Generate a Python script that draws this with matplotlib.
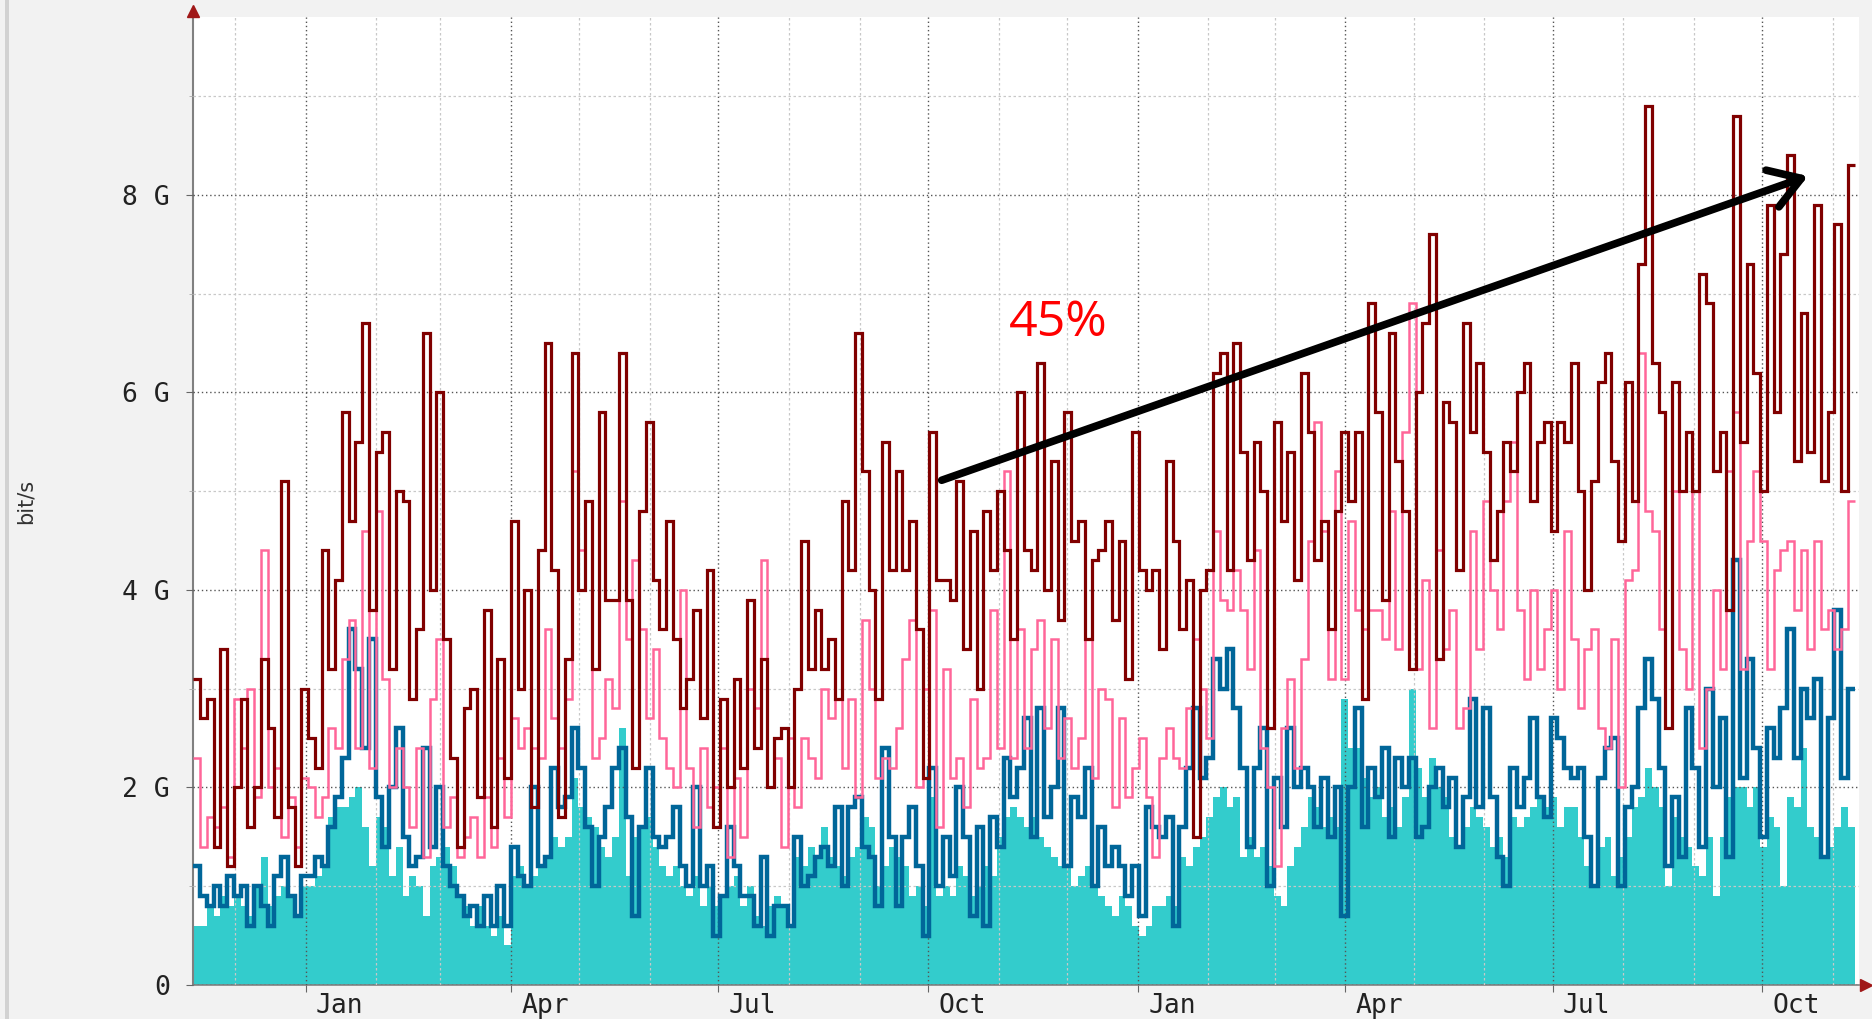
import matplotlib
matplotlib.use('Agg')
import matplotlib.pyplot as plt
import matplotlib.dates as mdates
from matplotlib.patches import Rectangle
from datetime import datetime

# traffic in Gbit/s in ~3 day steps
teal_area = [
    0.6, 0.6, 0.8, 0.7, 0.9, 0.8, 0.9, 0.8, 0.7, 1.0, 1.3, 0.8, 0.9, 1.0, 0.9, 0.7, 1.0, 1.0, 1.1, 1.2, 1.7, 1.8, 1.8, 1.9, 2.0, 1.6, 1.2, 1.7, 1.6, 1.1, 1.4,
    0.9, 1.1, 1.0, 0.7, 1.2, 1.3, 1.4, 1.2, 0.9, 0.8, 0.6, 0.8, 0.6, 0.5, 0.7, 0.4, 1.1, 1.2, 1.0, 1.1, 1.2, 1.3, 1.5, 1.4, 1.5, 2.1, 1.8, 1.7, 1.6, 1.4, 1.3,
    1.5, 2.6, 1.1, 1.5, 1.6, 1.7, 1.4, 1.2, 1.1, 1.2, 1.0, 0.9, 1.1, 0.8, 1.0, 0.8, 0.9, 1.0, 1.1, 0.8, 1.0, 0.7, 0.6, 0.8, 0.9, 0.8, 0.6, 1.3, 1.2, 1.4, 1.3,
    1.6, 1.3, 1.2, 1.1, 1.3, 1.4, 1.7, 1.6, 1.0, 1.2, 1.4, 1.3, 1.2, 0.9, 1.0, 0.8, 1.9, 0.9, 1.0, 0.9, 1.2, 1.1, 0.9, 1.0, 1.2, 1.1, 1.5, 1.7, 1.8, 1.7, 1.6,
    1.7, 1.5, 1.4, 1.3, 1.2, 1.2, 1.0, 1.1, 1.2, 1.0, 0.9, 0.8, 0.7, 0.9, 0.8, 0.6, 0.5, 0.6, 0.8, 0.8, 0.9, 0.8, 1.3, 1.2, 1.4, 1.5, 1.7, 1.9, 2.0, 1.8, 1.9,
    1.3, 1.5, 1.3, 1.4, 1.2, 0.9, 0.8, 1.2, 1.4, 1.6, 1.9, 1.8, 1.6, 1.7, 1.6, 2.9, 2.4, 2.4, 2.1, 1.9, 2.0, 1.7, 1.8, 1.6, 1.9, 3.0, 2.2, 1.9, 2.3, 2.0, 1.9,
    1.5, 1.4, 1.6, 1.8, 1.7, 1.6, 1.4, 1.5, 1.3, 1.7, 1.6, 1.7, 1.8, 1.9, 1.8, 1.9, 1.6, 1.8, 1.8, 1.5, 1.2, 1.0, 1.4, 1.5, 1.1, 1.3, 1.5, 1.8, 1.9, 2.2, 2.0,
    1.8, 1.0, 1.7, 1.5, 1.4, 1.2, 1.1, 1.5, 0.9, 1.5, 1.9, 2.0, 2.0, 1.8, 2.0, 1.4, 1.7, 1.6, 1.0, 1.9, 1.8, 2.4, 1.6, 1.5, 1.3, 1.4, 1.6, 1.8, 1.6,
]
blue_line = [
    1.2, 0.9, 0.8, 1.0, 0.8, 1.1, 0.9, 1.0, 0.6, 1.0, 0.8, 0.6, 1.1, 1.3, 0.9, 0.7, 1.1, 1.1, 1.3, 1.2, 1.6, 1.9, 2.3, 3.6, 3.2, 2.4, 3.5, 1.9, 1.4, 2.0, 2.6,
    1.5, 1.2, 1.3, 2.4, 1.4, 2.0, 1.2, 1.0, 0.9, 0.7, 0.8, 0.6, 0.9, 0.6, 1.0, 0.6, 1.4, 1.1, 1.0, 2.0, 1.2, 1.3, 2.2, 1.8, 1.9, 2.6, 2.2, 1.6, 1.0, 1.5, 1.8,
    2.2, 2.4, 1.7, 0.7, 1.6, 2.2, 1.5, 1.4, 1.5, 1.8, 1.2, 1.0, 2.0, 1.0, 1.2, 0.5, 0.9, 1.6, 1.2, 0.9, 0.9, 0.6, 1.3, 0.5, 0.8, 0.8, 0.6, 1.5, 1.0, 1.1, 1.3,
    1.4, 1.2, 1.8, 1.0, 1.8, 1.9, 1.4, 1.3, 0.8, 2.4, 1.5, 0.8, 1.5, 1.8, 1.2, 0.5, 2.2, 1.0, 1.5, 1.1, 2.0, 1.5, 0.7, 1.6, 0.6, 1.7, 1.4, 2.3, 1.9, 2.2, 2.7,
    1.5, 2.8, 1.7, 2.0, 2.8, 1.2, 1.9, 1.7, 2.2, 1.0, 1.6, 1.2, 1.4, 1.2, 0.9, 1.2, 0.7, 1.8, 1.6, 1.5, 1.7, 0.6, 1.6, 2.2, 2.8, 2.1, 2.3, 3.3, 3.0, 3.4, 2.8,
    2.2, 1.4, 2.2, 2.6, 1.0, 2.1, 1.6, 2.6, 2.0, 2.2, 2.0, 1.6, 2.1, 1.5, 2.0, 0.7, 2.0, 2.8, 1.6, 2.2, 1.9, 2.4, 1.5, 2.3, 2.0, 2.3, 1.5, 1.6, 2.0, 2.2, 1.8,
    2.1, 1.4, 1.9, 2.9, 1.8, 2.8, 1.9, 1.3, 1.0, 2.2, 1.8, 2.1, 2.7, 1.9, 1.7, 2.7, 2.5, 2.2, 2.1, 2.2, 1.5, 1.0, 2.1, 2.4, 2.5, 1.0, 1.8, 2.0, 2.8, 3.3, 2.9,
    2.2, 1.2, 1.9, 1.3, 2.8, 2.2, 1.4, 3.0, 2.0, 2.7, 1.3, 4.3, 2.1, 3.3, 2.4, 1.5, 2.6, 2.3, 2.8, 3.6, 2.3, 3.0, 2.7, 3.1, 1.3, 2.7, 3.8, 2.1, 3.0,
]
pink_line = [
    2.3, 1.4, 1.7, 1.6, 1.8, 1.3, 2.9, 2.4, 3.0, 1.9, 4.4, 2.0, 2.2, 1.5, 1.9, 1.4, 2.1, 2.0, 1.7, 1.9, 2.6, 2.4, 3.3, 3.7, 2.4, 4.6, 2.2, 4.8, 3.1, 2.0, 2.4,
    2.0, 1.6, 2.4, 1.3, 2.9, 3.5, 1.6, 1.9, 1.3, 1.5, 1.7, 1.3, 1.9, 1.4, 2.3, 1.7, 2.7, 2.4, 2.6, 2.4, 2.3, 3.6, 2.7, 2.4, 2.9, 5.2, 4.4, 4.9, 2.3, 2.5, 3.1,
    2.8, 4.9, 3.5, 4.3, 3.6, 2.7, 3.4, 2.5, 2.2, 2.0, 4.0, 2.2, 1.6, 2.4, 1.8, 2.0, 2.4, 1.3, 2.1, 1.5, 3.0, 2.8, 4.3, 2.0, 2.3, 1.4, 2.5, 1.8, 2.5, 2.3, 2.1,
    3.0, 2.7, 2.9, 2.2, 2.9, 1.9, 3.7, 3.0, 2.1, 2.3, 2.2, 2.6, 3.3, 3.7, 2.0, 3.0, 3.8, 1.6, 3.2, 2.1, 2.3, 1.8, 2.9, 2.2, 2.3, 3.8, 2.4, 5.2, 2.3, 3.6, 2.4,
    3.4, 3.7, 2.6, 3.5, 2.3, 2.7, 2.2, 2.5, 3.5, 2.1, 3.0, 2.9, 1.8, 2.7, 1.9, 2.2, 2.5, 1.9, 1.3, 2.3, 2.6, 2.3, 2.2, 2.8, 3.5, 3.0, 2.5, 4.6, 3.9, 3.8, 4.2,
    3.8, 3.2, 4.4, 2.4, 2.0, 1.2, 2.6, 3.1, 2.2, 3.3, 4.5, 5.7, 4.6, 3.1, 5.2, 3.1, 4.7, 3.8, 3.6, 3.8, 3.8, 3.5, 4.8, 3.4, 5.6, 6.9, 3.2, 4.1, 2.6, 4.4, 3.4,
    3.8, 2.6, 2.8, 4.6, 3.4, 4.9, 4.0, 3.6, 4.9, 5.5, 3.8, 3.1, 4.0, 3.2, 3.6, 4.0, 3.0, 4.6, 3.5, 2.8, 3.4, 3.6, 2.6, 2.4, 3.5, 2.0, 4.1, 4.2, 6.4, 4.8, 4.6,
    3.6, 2.6, 5.0, 3.4, 3.0, 5.0, 2.4, 3.0, 4.0, 3.2, 5.2, 5.8, 3.2, 4.5, 5.2, 4.5, 3.2, 4.2, 4.4, 4.5, 3.8, 4.4, 3.4, 4.5, 3.6, 3.8, 3.4, 3.6, 4.9,
]
red_line = [
    3.1, 2.7, 2.9, 1.4, 3.4, 1.2, 2.0, 2.9, 1.6, 2.0, 3.3, 2.6, 1.7, 5.1, 1.8, 1.2, 3.0, 2.5, 2.2, 4.4, 3.2, 4.1, 5.8, 4.7, 5.5, 6.7, 3.8, 5.4, 5.6, 3.2, 5.0,
    4.9, 2.9, 3.6, 6.6, 4.0, 6.0, 3.5, 2.3, 1.4, 2.8, 3.0, 1.9, 3.8, 1.6, 3.3, 2.1, 4.7, 3.0, 4.0, 1.8, 4.4, 6.5, 4.2, 1.7, 3.3, 6.4, 4.0, 4.9, 3.2, 5.8, 3.9,
    3.9, 6.4, 3.9, 2.2, 4.8, 5.7, 4.1, 3.6, 4.7, 3.5, 2.8, 3.1, 3.8, 2.7, 4.2, 1.6, 2.9, 2.0, 3.1, 2.2, 3.9, 2.4, 3.3, 2.0, 2.5, 2.6, 2.0, 3.0, 4.5, 3.2, 3.8,
    3.2, 3.5, 2.9, 4.9, 4.2, 6.6, 5.2, 4.0, 2.9, 5.5, 4.2, 5.2, 4.2, 4.7, 3.6, 2.1, 5.6, 4.1, 4.1, 3.9, 5.1, 3.4, 4.6, 3.0, 4.8, 4.2, 5.0, 4.4, 3.5, 6.0, 4.4,
    4.2, 6.3, 4.0, 5.3, 3.7, 5.8, 4.5, 4.7, 3.5, 4.3, 4.4, 4.7, 3.7, 4.5, 3.1, 5.6, 4.2, 4.0, 4.2, 3.4, 5.3, 4.5, 3.6, 4.1, 1.5, 4.0, 4.2, 6.2, 6.4, 4.2, 6.5,
    5.4, 4.3, 5.5, 5.0, 2.6, 5.7, 4.7, 5.4, 4.1, 6.2, 5.6, 4.3, 4.7, 3.6, 4.8, 5.6, 4.9, 5.6, 2.9, 6.9, 5.8, 3.9, 6.6, 5.3, 4.8, 3.2, 6.0, 6.7, 7.6, 3.3, 5.9,
    5.7, 4.2, 6.7, 5.6, 6.3, 5.4, 4.3, 4.8, 5.5, 5.2, 6.0, 6.3, 4.9, 5.5, 5.7, 4.6, 5.7, 5.5, 6.3, 5.0, 4.0, 5.1, 6.1, 6.4, 5.3, 4.5, 6.1, 4.9, 7.3, 8.9, 6.3,
    5.8, 2.6, 6.1, 5.0, 5.6, 5.0, 7.2, 6.9, 5.2, 5.6, 3.8, 8.8, 5.5, 7.3, 6.2, 5.0, 7.9, 5.8, 7.4, 8.4, 5.3, 6.8, 5.4, 7.9, 5.1, 5.8, 7.7, 5.0, 8.3,
]

data_start = datetime(2014, 11, 12, 19)
data_end = datetime(2016, 11, 10, 10)
view_end = datetime(2016, 11, 12, 14)

month_labels = ['Jan', 'Apr', 'Jul', 'Oct', 'Jan', 'Apr', 'Jul', 'Oct']
label_dates = [datetime(2015, 1, 16), datetime(2015, 4, 16), datetime(2015, 7, 16), datetime(2015, 10, 16),
               datetime(2016, 1, 16), datetime(2016, 4, 16), datetime(2016, 7, 16), datetime(2016, 10, 16)]
y_ticks = [0, 2, 4, 6, 8]
y_tick_labels = ['0', '2 G', '4 G', '6 G', '8 G']

trend_from = (datetime(2015, 10, 7), 5.11)
trend_to = (datetime(2016, 10, 21), 8.19)
trend_text = '45%'
trend_text_at = (datetime(2015, 11, 27), 6.70)

fig = plt.figure(figsize=(18.72, 10.19), dpi=100, facecolor='#f2f2f2')
fig.add_artist(Rectangle((5 / 1872, 0), 4 / 1872, 1, transform=fig.transFigure,
                         facecolor='#d2d2d2', edgecolor='none'))
ax = fig.add_axes([193.4 / 1872, 1 - 985 / 1019, (1859.5 - 193.4) / 1872, (985 - 17) / 1019])
ax.set_facecolor('white')

t0 = mdates.date2num(data_start)
t1 = mdates.date2num(data_end)
n = len(teal_area)
edges = [t0 + (t1 - t0) * i / n for i in range(n + 1)]

ax.stairs(teal_area, edges, fill=True, baseline=0, color='#33cccc', lw=0, zorder=1)
ax.stairs(blue_line, edges, baseline=None, color='#006699', lw=3.2, zorder=3)
ax.stairs(pink_line, edges, baseline=None, color='#ff6699', lw=1.8, zorder=4)
ax.stairs(red_line, edges, baseline=None, color='#800000', lw=2.3, zorder=5)

ax.set_xlim(t0, mdates.date2num(view_end))
ax.set_ylim(0, 9.8)

# grid on top of the area, like rrdtool
ax.set_axisbelow(False)
ax.xaxis.set_major_locator(mdates.MonthLocator(bymonth=(1, 4, 7, 10)))
ax.xaxis.set_minor_locator(mdates.MonthLocator())
ax.xaxis.set_major_formatter(plt.NullFormatter())
ax.set_yticks(y_ticks, y_tick_labels)
ax.set_yticks([1, 3, 5, 7, 9], minor=True)
ax.grid(which='major', color='#555555', linestyle=(0, (1, 2)), lw=1.0)
ax.grid(which='minor', color='#c8c8c8', linestyle=(0, (2, 2)), lw=0.9)

ax.tick_params(axis='x', which='major', length=5, color='#666666')
ax.tick_params(axis='x', which='minor', length=0)
ax.tick_params(axis='y', which='major', length=5, color='#666666', pad=12,
               labelsize=19, labelcolor='#222222', labelfontfamily='DejaVu Sans Mono')
ax.tick_params(axis='y', which='minor', length=3, color='#aaaaaa')

for side in ('top', 'right'):
    ax.spines[side].set_visible(False)
ax.spines['left'].set_color('#808080')
ax.spines['left'].set_linewidth(1.5)
ax.spines['bottom'].set_color('#808080')
ax.spines['bottom'].set_linewidth(1.2)

# small red arrow heads at the axis ends
ax.plot([0], [1.006], marker='^', ms=9, color='#a01818', transform=ax.transAxes, clip_on=False, zorder=6)
ax.plot([1.004], [0], marker='>', ms=9, color='#a01818', transform=ax.transAxes, clip_on=False, zorder=6)

for lab, d in zip(month_labels, label_dates):
    ax.annotate(lab, xy=(mdates.date2num(d), 0), xycoords=('data', 'axes fraction'),
                xytext=(0, -6), textcoords='offset points', ha='center', va='top',
                fontsize=19, color='#222222', family='DejaVu Sans Mono')

fig.text(26 / 1872, 1 - 501 / 1019, 'bit/s', rotation=90, ha='center', va='center',
         fontsize=15, color='#333333')

ax.annotate('', xy=(mdates.date2num(trend_to[0]), trend_to[1]),
            xytext=(mdates.date2num(trend_from[0]), trend_from[1]),
            arrowprops=dict(arrowstyle='->,head_length=2.2,head_width=1.4', lw=5.5, color='black',
                            mutation_scale=10, shrinkA=0, shrinkB=0, capstyle='round', joinstyle='round'),
            zorder=7)
ax.text(mdates.date2num(trend_text_at[0]), trend_text_at[1], trend_text, color='red',
        fontsize=36, ha='center', va='center', family='Open Sans', zorder=7)

fig.savefig('out.png', dpi=100, facecolor=fig.get_facecolor())
